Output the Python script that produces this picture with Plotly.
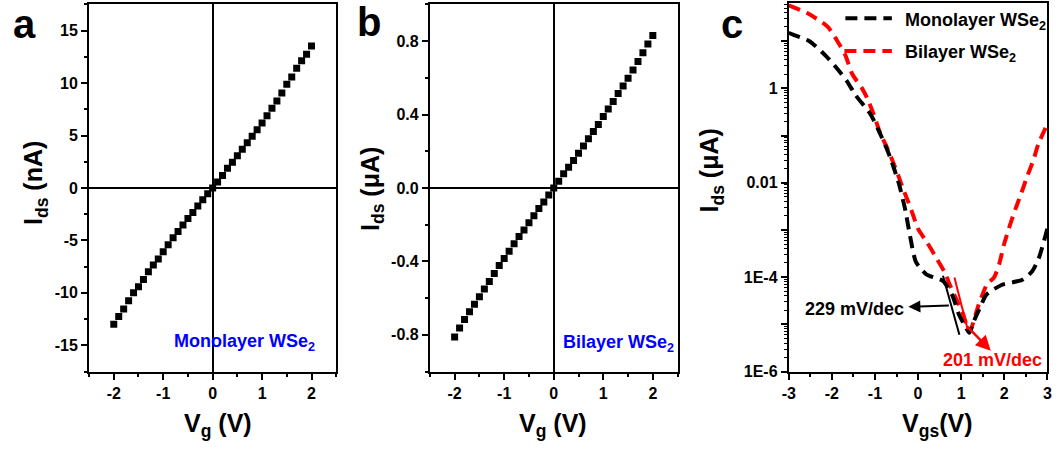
import plotly.graph_objects as go

W, H = 1059, 456

# ---------------- data ----------------
# (a) monolayer WSe2 output curve, I_ds in nA vs V_g
vg = [-2.0, -1.9, -1.8, -1.7, -1.6, -1.5, -1.4, -1.3, -1.2, -1.1, -1.0,
      -0.9, -0.8, -0.7, -0.6, -0.5, -0.4, -0.3, -0.2, -0.1, 0.0,
      0.1, 0.2, 0.3, 0.4, 0.5, 0.6, 0.7, 0.8, 0.9, 1.0,
      1.1, 1.2, 1.3, 1.4, 1.5, 1.6, 1.7, 1.8, 1.9, 2.0]
ids_mono_nA = [-13.0, -12.25, -11.53, -10.75, -10.0, -9.41, -8.72, -8.0, -7.34, -6.78,
               -6.09, -5.41, -4.75, -4.16, -3.53, -2.91, -2.34, -1.72, -1.13, -0.56,
               0.0,
               0.56, 1.19, 1.88, 2.44, 3.06, 3.69, 4.31, 4.94, 5.56, 6.19,
               6.88, 7.59, 8.28, 9.06, 9.88, 10.59, 11.41, 12.13, 12.75, 13.53]

# (b) bilayer WSe2 output curve, I_ds in uA vs V_g
ids_bi_uA = [-0.8125, -0.7625, -0.716, -0.675, -0.634, -0.593, -0.55, -0.509, -0.466, -0.423,
             -0.384, -0.345, -0.304, -0.264, -0.229, -0.189, -0.152, -0.1125, -0.077, -0.039,
             0.0,
             0.036, 0.077, 0.1125, 0.15, 0.189, 0.229, 0.268, 0.307, 0.346, 0.389,
             0.430, 0.471, 0.514, 0.555, 0.598, 0.643, 0.689, 0.736, 0.784, 0.830]

# (c) transfer curves, I_ds in uA vs V_gs
vgs_mono = [-3.0, -2.9, -2.52, -2.14, -1.87, -1.64, -1.45, -1.10, -0.84, -0.65, -0.45,
            -0.30, -0.19, -0.05, 0.19, 0.58, 0.80, 0.95, 1.10, 1.19, 1.30, 1.45, 1.59,
            1.95, 2.41, 2.64, 2.80, 3.0]
ids_mono_uA = [15.1, 13.8, 10.0, 4.9, 2.57, 1.38, 0.72, 0.28, 0.091, 0.035, 0.010,
               2.75e-3, 7.8e-4, 2.1e-4, 1.15e-4, 8.3e-5, 4.0e-5, 1.6e-5, 8.9e-6, 6.6e-6,
               1.2e-5, 2.4e-5, 4.3e-5, 6.9e-5, 8.7e-5, 1.3e-4, 2.5e-4, 1.07e-3]

vgs_bi = [-3.0, -2.56, -2.1, -1.87, -1.68, -1.53, -1.30, -1.18, -1.03, -0.87, -0.72,
          -0.57, -0.45, -0.34, -0.22, -0.11, 0.0, 0.20, 0.43, 0.62, 0.73, 0.88, 1.04,
          1.12, 1.20, 1.40, 1.60, 1.76, 1.88, 1.99, 2.11, 2.26, 2.37, 2.53, 2.68, 2.79, 3.0]
ids_bi_c_uA = [57.5, 38.9, 20.4, 10.0, 4.9, 2.04, 1.0, 0.62, 0.28, 0.107, 0.056,
               0.026, 0.0135, 7.1e-3, 3.8e-3, 2.0e-3, 1.05e-3, 5.6e-4, 2.5e-4, 1.26e-4,
               7.1e-5, 3.5e-5, 1.7e-5, 1.0e-5, 7.1e-6, 2.5e-5, 7.1e-5, 9.8e-5, 1.86e-4,
               4.8e-4, 1.1e-3, 2.8e-3, 5.2e-3, 0.0135, 0.031, 0.066, 0.174]

# subthreshold-swing fit segments
ss_mono_v = [0.578, 0.959]
ss_mono_i = [1.07e-4, 6.0e-6]
ss_bi_v = [0.844, 1.151]
ss_bi_i = [9.8e-5, 7.8e-6]

# ---------------- helpers ----------------
def fx(x):
    return x / W


def fy(y):
    return 1 - y / H


FONT = "Liberation Sans, Arial, sans-serif"
DASH = "12px,7px"
RED = "#ff0000"
BLUE = "#0000ff"

fig = go.Figure()

fig.add_trace(go.Scatter(x=vg, y=ids_mono_nA, mode="markers",
                         marker=dict(symbol="square", size=7, color="black"),
                         xaxis="x", yaxis="y", showlegend=False))
fig.add_trace(go.Scatter(x=vg, y=ids_bi_uA, mode="markers",
                         marker=dict(symbol="square", size=7, color="black"),
                         xaxis="x2", yaxis="y2", showlegend=False))

fig.add_trace(go.Scatter(x=vgs_bi, y=ids_bi_c_uA, mode="lines",
                         line=dict(color=RED, width=4, dash=DASH, shape="spline", smoothing=0.6),
                         xaxis="x3", yaxis="y3", showlegend=False))
fig.add_trace(go.Scatter(x=vgs_mono, y=ids_mono_uA, mode="lines",
                         line=dict(color="black", width=4, dash=DASH, shape="spline", smoothing=0.6),
                         xaxis="x3", yaxis="y3", showlegend=False))
fig.add_trace(go.Scatter(x=ss_mono_v, y=ss_mono_i, mode="lines",
                         line=dict(color="black", width=2),
                         xaxis="x3", yaxis="y3", showlegend=False))
fig.add_trace(go.Scatter(x=ss_bi_v, y=ss_bi_i, mode="lines",
                         line=dict(color=RED, width=2),
                         xaxis="x3", yaxis="y3", showlegend=False))

# ---------------- axes ----------------
tickfont = dict(family=FONT, size=16, color="black", weight="bold")


def lin_axis(domain, rng, tickvals, ticktext, minor_dtick, zero=True, anchor=None):
    return dict(domain=domain, range=rng, anchor=anchor,
                tickmode="array", tickvals=tickvals, ticktext=ticktext,
                ticks="outside", ticklen=6, tickwidth=2, tickcolor="black",
                minor=dict(ticks="outside", ticklen=3, tickwidth=1.5, tickcolor="black",
                           dtick=minor_dtick, tick0=0),
                showline=True, linewidth=2, linecolor="black", mirror=True,
                showgrid=False, zeroline=zero, zerolinecolor="black", zerolinewidth=1.5,
                tickfont=tickfont, fixedrange=True)


ydom = [fy(379), fy(4.5)]
xa = [fx(83), fx(333)]
xb = [fx(427.7), fx(678.3)]
xc = [fx(790.7), fx(1052.3)]

minor_log = [m * 10.0 ** e for e in range(-6, 2) for m in range(2, 10)]

fig.update_layout(
    width=W, height=H,
    margin=dict(l=0, r=0, t=0, b=0),
    paper_bgcolor="white", plot_bgcolor="white",
    font=dict(family=FONT, color="black", weight="bold"),
    xaxis=lin_axis(xa, [-2.5, 2.5], [-2, -1, 0, 1, 2], ["-2", "-1", "0", "1", "2"], 0.5, anchor="y"),
    yaxis=lin_axis(ydom, [-17.5, 17.5], [-15, -10, -5, 0, 5, 10, 15],
                   ["-15", "-10", "-5", "0", "5", "10", "15"], 2.5, anchor="x"),
    xaxis2=lin_axis(xb, [-2.5, 2.5], [-2, -1, 0, 1, 2], ["-2", "-1", "0", "1", "2"], 0.5, anchor="y2"),
    yaxis2=lin_axis(ydom, [-1.0, 1.0], [-0.8, -0.4, 0, 0.4, 0.8],
                    ["-0.8", "-0.4", "0.0", "0.4", "0.8"], 0.2, anchor="x2"),
    xaxis3=lin_axis(xc, [-3, 3], [-3, -2, -1, 0, 1, 2, 3],
                    ["-3", "-2", "-1", "0", "1", "2", "3"], 0.5, zero=False, anchor="y3"),
    yaxis3=dict(domain=[fy(379), fy(3.5)], type="log", range=[-6, 1.8], anchor="x3",
                tickmode="array",
                tickvals=[1e-6, 1e-5, 1e-4, 1e-3, 1e-2, 1e-1, 1, 10],
                ticktext=["1E-6", "", "1E-4", "", "0.01", "", "1", ""],
                ticks="outside", ticklen=6, tickwidth=2, tickcolor="black",
                minor=dict(ticks="outside", ticklen=3, tickwidth=1, tickcolor="black",
                           tickmode="array", tickvals=minor_log),
                showline=True, linewidth=2, linecolor="black", mirror=True,
                showgrid=False, zeroline=False, tickfont=tickfont, fixedrange=True),
)

# ---------------- text ----------------
ann = []


def label(text, x, y, size, color="black", angle=0, xanchor="center", yanchor="middle"):
    ann.append(dict(text=text, x=fx(x), y=fy(y), xref="paper", yref="paper",
                    showarrow=False, textangle=angle, xanchor=xanchor, yanchor=yanchor,
                    font=dict(family=FONT, size=size, color=color, weight="bold")))


# panel letters
label("a", 18, 24, 40)
label("b", 366, 22, 40)
label("c", 733, 24, 40)

# axis titles
label("V<sub>g</sub> (V)", 213, 434, 25)
label("V<sub>g</sub> (V)", 552, 434, 25)
label("V<sub>gs</sub>(V)", 941, 434, 25)
label("I<sub>ds</sub> (nA)", 29, 187, 25, angle=-90)
label("I<sub>ds</sub> (\u03bcA)", 369, 193, 25, angle=-90)
label("I<sub>ds</sub> (\u03bcA)", 712, 174, 25, angle=-90)

# sample names
label("Monolayer WSe<sub>2</sub>", 240.5, 349, 18, color=BLUE)
label("Bilayer WSe<sub>2</sub>", 619, 350, 18, color=BLUE)

# legend of panel c
label("Monolayer WSe<sub>2</sub>", 906, 22, 18, xanchor="left")
label("Bilayer WSe<sub>2</sub>", 906, 55, 18, xanchor="left")

# slope labels
label("229 mV/dec", 857.5, 315, 18)
label("201 mV/dec", 996.5, 367, 18, color=RED)

# arrows from the fit segments to their labels
ann.append(dict(x=-0.225, y=-4.63, ax=0.75, ay=-4.60, xref="x3", yref="y3",
                axref="x3", ayref="y3", text="", showarrow=True,
                arrowhead=2, arrowsize=1.2, arrowwidth=2, arrowcolor="black"))
ann.append(dict(x=1.686, y=-5.56, ax=1.106, ay=-5.01, xref="x3", yref="y3",
                axref="x3", ayref="y3", text="", showarrow=True,
                arrowhead=2, arrowsize=1.2, arrowwidth=2.5, arrowcolor=RED))

fig.update_layout(annotations=ann)

# legend line samples
fig.add_shape(type="line", xref="paper", yref="paper",
              x0=fx(848), x1=fx(895), y0=fy(18.5), y1=fy(18.5),
              line=dict(color="black", width=4, dash=DASH))
fig.add_shape(type="line", xref="paper", yref="paper",
              x0=fx(847), x1=fx(895), y0=fy(52), y1=fy(52),
              line=dict(color=RED, width=4, dash=DASH))

fig.write_html("out.html")
